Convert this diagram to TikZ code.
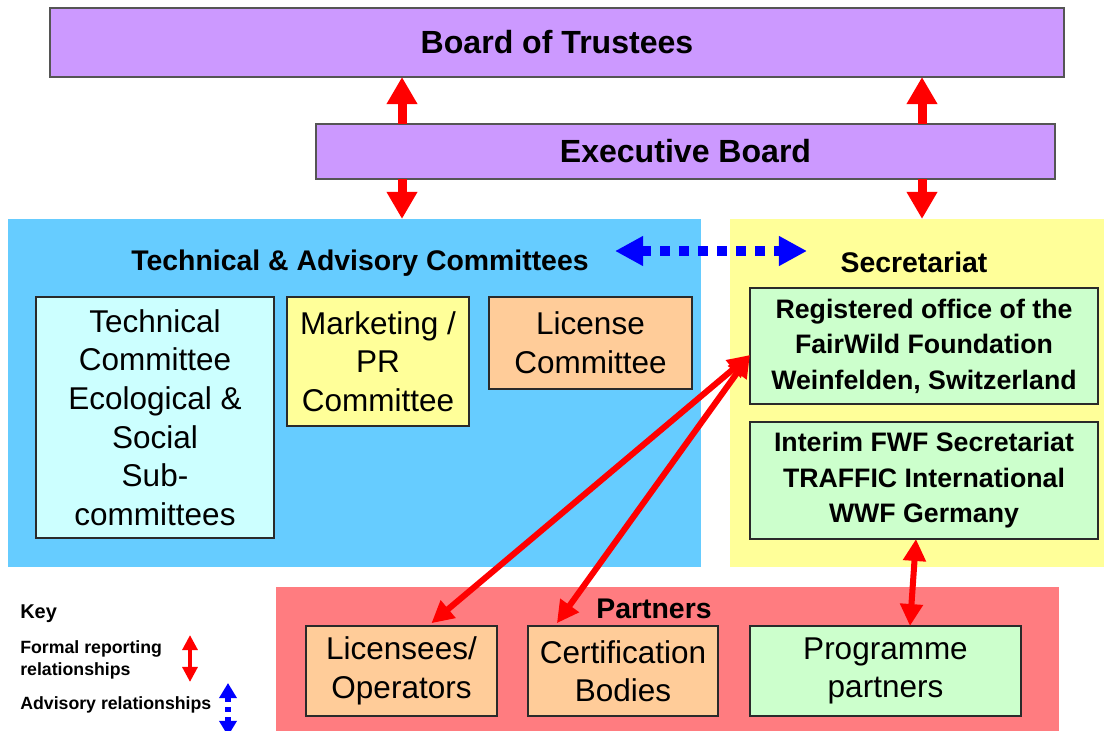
\documentclass[tikz,border=0pt]{standalone}
\usepackage{fontspec}
\setmainfont{Liberation Sans}
\usetikzlibrary{arrows.meta}
\definecolor{boardfill}{HTML}{CC99FF}
\definecolor{techpanel}{HTML}{66CCFF}
\definecolor{secpanel}{HTML}{FFFF99}
\definecolor{partpanel}{HTML}{FF7C80}
\definecolor{cyanbox}{HTML}{CCFFFF}
\definecolor{yellowbox}{HTML}{FFFF99}
\definecolor{peachbox}{HTML}{FFCC99}
\definecolor{greenbox}{HTML}{CCFFCC}
\definecolor{boxline}{HTML}{2A2A2A}
\begin{document}
\begin{tikzpicture}[
  x=0.025cm, y=-0.025cm,
  sized/.style 2 args={minimum width=#1cm, minimum height=#2cm},
  panel/.style={fill=#1, draw=none, inner sep=0pt, outer sep=0pt},
  box/.style={fill=#1, draw=boxline, line width=0.9pt, inner sep=0pt, outer sep=0pt, align=center},
  boardbox/.style={fill=boardfill, draw=boxline!80!white, line width=1.4pt, inner sep=0pt, outer sep=0pt,
    font=\bfseries\fontsize{22.8}{27}\selectfont},
  bigtext/.style={font=\fontsize{22.4}{27.4}\selectfont},
  boldtext/.style={font=\bfseries\fontsize{19}{25.2}\selectfont},
  paneltitle/.style={font=\bfseries\fontsize{20.2}{24}\selectfont, inner sep=0pt},
  keytext/.style={font=\bfseries\fontsize{12.6}{15.6}\selectfont, inner sep=0pt, anchor=west, align=left},
  formal/.style={draw=red, line width=6.4pt},
  bighead/.tip={Triangle[length=19.2pt, width=20.6pt]},
  diaghead/.tip={Triangle[length=15.6pt, width=15.6pt]},
  keyhead/.tip={Triangle[length=10.7pt, width=10.5pt]},
]
\useasboundingbox (0,0) rectangle (1104,730);

% background panels
\node[panel=techpanel, sized={17.325}{8.7}] (tac) at (354.5,393) {};
\node[panel=secpanel, sized={9.35}{8.7}] (sec) at (917,393) {};
\node[panel=partpanel, sized={19.575}{3.725}] (partners) at (667.5,661.5) {};

% governing boards
\node[boardbox, sized={25.35}{1.725}] (bot) at (557,42.5) {Board of Trustees};
\node[boardbox, sized={18.475}{1.375}] (exb) at (685.5,151.5) {Executive Board};

% panel titles
\node[paneltitle] (tactitle) at (360,263) {Technical \& Advisory Committees};
\node[paneltitle] (sectitle) at (914,262) {Secretariat};
\node[paneltitle] (parttitle) at (654,609) {Partners};

% committees
\node[box=cyanbox, bigtext, sized={5.95}{6.025}] (tc) at (155,417.5)
  {Technical\\Committee\\Ecological \&\\Social\\Sub-\\committees};
\node[box=yellowbox, bigtext, sized={4.55}{3.225}] (mk) at (378,361.5)
  {Marketing /\\PR\\Committee};
\node[box=peachbox, bigtext, sized={5.075}{2.3}] (lc) at (590.5,343)
  {License\\Committee};

% secretariat offices
\node[box=greenbox, boldtext, sized={8.7}{2.9}] (reg) at (924,346)
  {Registered office of the\\FairWild Foundation\\Weinfelden, Switzerland};
\node[box=greenbox, boldtext, sized={8.7}{2.925}] (int) at (924,480.5)
  {Interim FWF Secretariat\\TRAFFIC International\\WWF Germany};

% partners
\node[box=peachbox, bigtext, sized={4.775}{2.25}] (lic) at (401.5,671) {Licensees/\\Operators};
\node[box=peachbox, bigtext, sized={4.75}{2.25}] (cert) at (623,671) {Certification\\Bodies};
\node[box=greenbox, bigtext, sized={6.775}{2.25}] (prog) at (885.5,671) {Programme\\partners};

% formal reporting between boards and panels
\coordinate (colL) at (402,0);
\coordinate (colR) at (922,0);
\draw[formal, -{bighead}] (exb.north -| colL) -- (bot.south -| colL);
\draw[formal, -{bighead}] (exb.north -| colR) -- (bot.south -| colR);
\draw[formal, -{bighead}] (exb.south -| colL) -- (tac.north -| colL);
\draw[formal, -{bighead}] (exb.south -| colR) -- (sec.north -| colR);

% advisory link between committees and secretariat
\coordinate (advL) at (615,251);
\coordinate (advR) at (807,251);
\draw[draw=blue, line width=7.1pt, dash pattern=on 7.1pt off 6.4pt,
  {Triangle[length=20pt, width=20pt]}-{Triangle[length=20pt, width=20pt]}] (advL) -- (advR);

% registered office to licensees and certification bodies
\draw[draw=red, line width=4.3pt, {diaghead}-{diaghead}]
  ([yshift=-6.4pt]reg.west) -- ([xshift=21.3pt, yshift=2pt]lic.north);
\draw[draw=red, line width=4.3pt, {diaghead}-{diaghead}]
  ([yshift=-6.4pt]reg.west) -- ([xshift=-47pt, yshift=2pt]cert.north);

% interim secretariat to programme partners
\draw[draw=red, line width=4.3pt, {diaghead}-{diaghead}]
  ([xshift=-5.7pt]int.south) -- ([xshift=17.4pt]prog.north);

% key
\node[keytext, font=\bfseries\fontsize{14.2}{17}\selectfont] (keyhd) at (20,614) {Key};
\node[keytext] (keyformal) at (20,660) {Formal reporting\\relationships};
\node[keytext] (keyadv) at (20,705) {Advisory relationships};
\coordinate (kf1) at (190,635);
\coordinate (kf2) at (190,682);
\draw[draw=red, line width=3pt, {keyhead}-{keyhead}] (kf1) -- (kf2);
\coordinate (ka1) at (228,683);
\coordinate (ka2) at (228,736);
\draw[draw=blue, line width=3.6pt, dash pattern=on 3.6pt off 3.6pt,
  {Triangle[length=10.7pt, width=12pt]}-{Triangle[length=10.7pt, width=12pt]}] (ka1) -- (ka2);
\end{tikzpicture}
\end{document}
